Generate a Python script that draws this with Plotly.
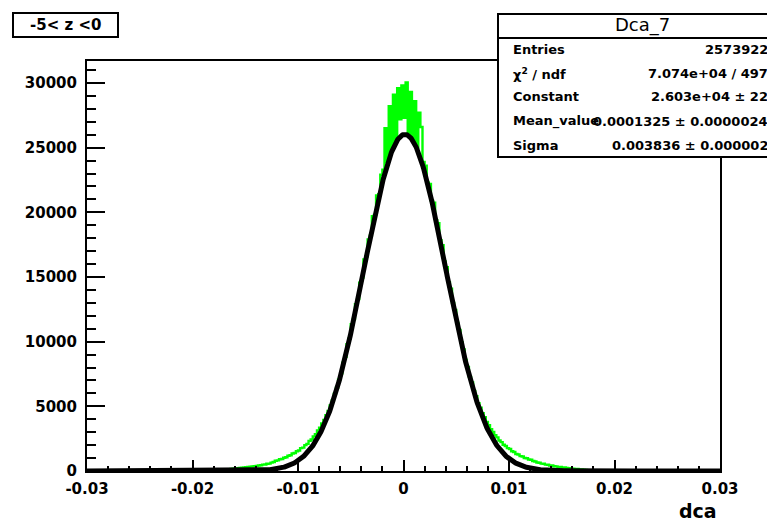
import numpy as np
import plotly.graph_objects as go

# ---------------- data ----------------
# histogram "Dca_7" of dca, bins of width 0.0002 over [-0.03, 0.03];
# listed counts cover [-0.018, 0.018], all other bins are empty
x_min, x_max = -0.03, 0.03
bin_width = 0.0002
counts_start = -0.018
counts = [
    50, 60, 70, 85, 95, 115, 125, 145, 160, 175,
    200, 215, 235, 255, 270, 300, 310, 340, 345, 380,
    395, 430, 445, 490, 500, 560, 570, 650, 700, 790,
    820, 910, 930, 1030, 1060, 1180, 1220, 1350, 1390, 1530,
    1590, 1770, 1810, 2000, 2100, 2330, 2430, 2680, 2840, 3130,
    3340, 3680, 3950, 4320, 4640, 5060, 5450, 5980, 6440, 7080,
    7560, 8380, 8830, 9800, 10250, 11350, 11750, 12900, 13300, 14550,
    14950, 16350, 16600, 17900, 18200, 19700, 19800, 21300, 21400, 22900,
    23300, 26500, 23900, 28200, 24900, 29100, 25600, 29600, 27200, 29800,
    27300, 30050, 26000, 29300, 25600, 28600, 25000, 27700, 26600, 23900,
    23600, 22300, 22200, 20900, 20750, 19400, 19150, 17850, 17450, 16200,
    15750, 14600, 14100, 13000, 12450, 11450, 10900, 9950, 9400, 8580,
    8050, 7280, 6850, 6180, 5790, 5250, 4900, 4470, 4160, 3800,
    3540, 3230, 3020, 2760, 2600, 2360, 2230, 2030, 1930, 1770,
    1700, 1530, 1470, 1320, 1280, 1150, 1120, 1010, 990, 890,
    870, 770, 740, 660, 640, 570, 560, 490, 480, 430,
    420, 370, 360, 320, 320, 275, 270, 235, 225, 195,
    185, 155, 150, 120, 115, 95, 85, 70, 60, 45,
]

# Gaussian fit parameters (from the stats box)
fit_constant = 2.603e4
fit_mean = 0.0001325
fit_sigma = 0.003836

pave_title = "-5< z <0"
hist_name = "Dca_7"
stats_labels = ["Entries", "χ<sup>2</sup> / ndf", "Constant", "Mean_value", "Sigma"]
stats_values = ["2573922", "7.074e+04 / 497", "2.603e+04 ± 22",
                "0.0001325 ± 0.0000024", "0.003836 ± 0.000002"]
x_tick_vals = [-0.03, -0.02, -0.01, 0, 0.01, 0.02, 0.03]
x_tick_text = ["-0.03", "-0.02", "-0.01", "0", "0.01", "0.02", "0.03"]
y_tick_vals = [0, 5000, 10000, 15000, 20000, 25000, 30000]
y_tick_text = ["0", "5000", "10000", "15000", "20000", "25000", "30000"]
x_title = "dca"
y_max = 31700

# ---------------- build ----------------
n_bins = int(round((x_max - x_min) / bin_width))
n_left = int(round((counts_start - x_min) / bin_width))
full = [0] * n_left + counts + [0] * (n_bins - n_left - len(counts))
edges = x_min + bin_width * np.arange(n_bins + 1)
step_y = full + [full[-1]]

xf = np.linspace(x_min, x_max, 1201)
yf = fit_constant * np.exp(-0.5 * ((xf - fit_mean) / fit_sigma) ** 2)

W, H = 767, 523
L, R, T, B = 87, 47, 61, 52
pw, ph = W - L - R, H - T - B


def px(x):
    return (x - L) / pw


def py(y):
    return (H - B - y) / ph


fig = go.Figure()
fig.add_trace(go.Scatter(x=edges, y=step_y, mode="lines", line_shape="hv",
                         line=dict(color="#00ff00", width=2.4), hoverinfo="skip"))
fig.add_trace(go.Scatter(x=xf, y=yf, mode="lines",
                         line=dict(color="black", width=5), hoverinfo="skip"))

font_b = "DejaVu Sans"
fig.update_layout(
    width=W, height=H, margin=dict(l=L, r=R, t=T, b=B),
    paper_bgcolor="white", plot_bgcolor="white", showlegend=False,
    xaxis=dict(range=[x_min, x_max], tickvals=x_tick_vals, ticktext=x_tick_text,
               ticks="inside", ticklen=11, tickwidth=2, tickcolor="black",
               minor=dict(ticks="inside", ticklen=5, dtick=0.002, tickwidth=1.5,
                          tickcolor="black", showgrid=False),
               showline=True, mirror=True, linecolor="black", linewidth=2,
               showgrid=False, zeroline=False,
               tickfont=dict(family=font_b, size=15, color="black", weight="bold"),
               ticklabelstandoff=3),
    yaxis=dict(range=[0, y_max], tickvals=y_tick_vals, ticktext=y_tick_text,
               ticks="inside", ticklen=18, tickwidth=2, tickcolor="black",
               minor=dict(ticks="inside", ticklen=9, dtick=1000, tickwidth=1.5,
                          tickcolor="black", showgrid=False),
               showline=True, mirror=True, linecolor="black", linewidth=2,
               showgrid=False, zeroline=False,
               tickfont=dict(family=font_b, size=15, color="black", weight="bold"),
               ticklabelstandoff=5),
)

shapes = []
# title pave
shapes.append(dict(type="rect", xref="paper", yref="paper",
                   x0=px(13), x1=px(118), y0=py(37), y1=py(13),
                   line=dict(color="black", width=2), fillcolor="white", layer="above"))
# stats box
shapes.append(dict(type="rect", xref="paper", yref="paper",
                   x0=px(498), x1=px(800), y0=py(157), y1=py(14),
                   line=dict(color="black", width=2), fillcolor="white", layer="above"))
shapes.append(dict(type="line", xref="paper", yref="paper",
                   x0=px(498), x1=px(800), y0=py(38), y1=py(38),
                   line=dict(color="black", width=2), layer="above"))
fig.update_layout(shapes=shapes)

ann = []
ann.append(dict(text=pave_title, xref="paper", yref="paper", x=px(65.5), y=py(25.5),
                xanchor="center", yanchor="middle", showarrow=False,
                font=dict(family=font_b, size=15, color="black", weight="bold")))
ann.append(dict(text=hist_name, xref="paper", yref="paper", x=px(642), y=py(25.5),
                xanchor="center", yanchor="middle", showarrow=False,
                font=dict(family=font_b, size=18, color="black")))
row_y = [50, 73.5, 97, 121, 145]
for lab, val, ry in zip(stats_labels, stats_values, row_y):
    ann.append(dict(text=lab, xref="paper", yref="paper", x=px(511), y=py(ry),
                    xanchor="left", yanchor="middle", showarrow=False,
                    font=dict(family=font_b, size=13, color="black", weight="bold")))
    ann.append(dict(text=val, xref="paper", yref="paper", x=px(770), y=py(ry),
                    xanchor="right", yanchor="middle", showarrow=False,
                    font=dict(family=font_b, size=13, color="black", weight="bold")))
ann.append(dict(text=x_title, xref="paper", yref="paper", x=px(719), y=py(511),
                xanchor="right", yanchor="middle", showarrow=False,
                font=dict(family=font_b, size=19, color="black", weight="bold")))
fig.update_layout(annotations=ann)

fig.write_html("out.html", config={"displayModeBar": False},
               post_script="document.body.style.margin='0';")
